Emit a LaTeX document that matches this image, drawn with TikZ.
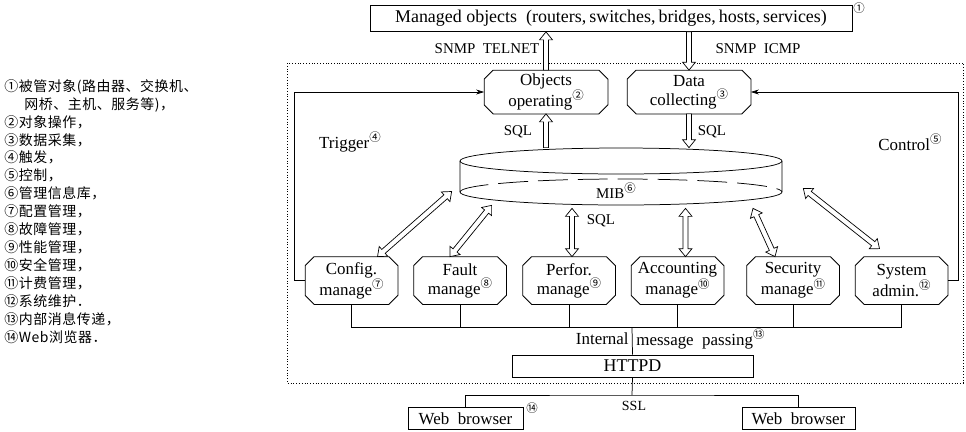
\documentclass[tikz,border=0pt]{standalone}
\usepackage{fontspec}
\setmainfont{Liberation Serif}
\newfontfamily\cjkf{Noto Sans CJK SC}
\newfontfamily\cjkleg[LetterSpace=4]{Noto Sans CJK SC}
\usetikzlibrary{calc,arrows.meta}

\newcommand\cnum[1]{\raisebox{0.4em}{\cjkf\fontsize{11.5}{11.5}\selectfont #1}}
\newcommand\hAw{2.6pt}
\newcommand\hAh{6.5pt}
\newcommand\hAl{8pt}
% single hollow arrow, head at #2
\newcommand\harr[2]{\draw[hollowline] ($(#1)!\hAw!90:(#2)$) -- ($($(#2)!\hAl!(#1)$)!\hAw!-90:(#1)$) -- ($($(#2)!\hAl!(#1)$)!\hAh!-90:(#1)$) -- (#2) -- ($($(#2)!\hAl!(#1)$)!\hAh!90:(#1)$) -- ($($(#2)!\hAl!(#1)$)!\hAw!90:(#1)$) -- ($(#1)!\hAw!-90:(#2)$) -- cycle;}
% double hollow arrow
\newcommand\dharr[2]{\draw[hollowline] (#1) -- ($($(#1)!\hAl!(#2)$)!\hAh!90:(#2)$) -- ($($(#1)!\hAl!(#2)$)!\hAw!90:(#2)$) -- ($($(#2)!\hAl!(#1)$)!\hAw!-90:(#1)$) -- ($($(#2)!\hAl!(#1)$)!\hAh!-90:(#1)$) -- (#2) -- ($($(#2)!\hAl!(#1)$)!\hAh!90:(#1)$) -- ($($(#2)!\hAl!(#1)$)!\hAw!90:(#1)$) -- ($($(#1)!\hAl!(#2)$)!\hAw!-90:(#2)$) -- ($($(#1)!\hAl!(#2)$)!\hAh!-90:(#2)$) -- cycle;}
% chamfered outline round a node
\newcommand\drawocto[1]{\draw ($(#1.north west)+(9,0)$) -- ($(#1.north east)+(-9,0)$) -- ($(#1.north east)+(0,9)$) -- ($(#1.south east)+(0,-9)$) -- ($(#1.south east)+(-9,0)$) -- ($(#1.south west)+(9,0)$) -- ($(#1.south west)+(0,-9)$) -- ($(#1.north west)+(0,9)$) -- cycle;}

\begin{document}
\begin{tikzpicture}[x=1bp,y=-1bp,line width=0.75pt,
  every node/.style={font=\fontsize{17}{19}\selectfont,inner sep=0pt},
  modbox/.style={minimum width=92bp,minimum height=47bp,align=center},
  topbox/.style={minimum width=123bp,minimum height=43bp,align=center},
  plainbox/.style={draw,inner sep=0pt},
  hollowline/.style={draw,fill=white,line width=0.7pt,line join=miter},
  lab/.style={font=\fontsize{15}{17}\selectfont},
  arr/.style={-{Stealth[length=8pt,width=5pt]}},
  frame/.style={dotted,line width=0.8pt}
]
\useasboundingbox (0,0) rectangle (966,431);

% legend
\node[anchor=north west,align=left,font=\cjkleg\fontsize{14}{18}\selectfont] (legend) at (4,79)
 {①被管对象(路由器、交换机、\\\hspace*{20bp}网桥、主机、服务等)，\\②对象操作，\\③数据采集，\\④触发，\\⑤控制，\\⑥管理信息库，\\⑦配置管理，\\⑧故障管理，\\⑨性能管理，\\⑩安全管理，\\⑪计费管理，\\⑫系统维护．\\⑬内部消息传递，\\⑭Web浏览器．};

% frame
\draw[frame] (287,63) rectangle (963,383);

% top box
\node[plainbox,minimum width=482bp,minimum height=26bp,font=\fontsize{18}{20}\selectfont] (managed) at (611,18.5)
 {Managed\ objects\ \ (routers,\,switches,\,bridges,\,hosts,\,services)};
\node (n1) at (859,11) {\cnum{①}};

% collecting / operating
\node[topbox] (objop) at (546,92) {Objects\\operating\cnum{②}};
\node[topbox] (data) at (689,92) {Data\\collecting\cnum{③}};
\drawocto{objop}
\drawocto{data}
\node[lab] (l1) at (487,49) {SNMP\ \ TELNET};
\node[lab] (l2) at (758,49) {SNMP\ \ ICMP};

% MIB cylinder
\node[minimum width=322bp,minimum height=57bp] (mib) at (621,176.5) {};
\coordinate (mibT) at ($(mib.center)+(0,-15.5)$);
\coordinate (mibB) at ($(mib.center)+(0,15.5)$);
\draw (mibT) ellipse [x radius=161,y radius=13];
\draw ($(mibT)+(-161,0)$) -- ($(mibB)+(-161,0)$) arc[start angle=180,end angle=0,x radius=161,y radius=13] -- ($(mibT)+(161,0)$);
\draw[dash pattern=on 30pt off 10pt] ($(mibB)+(-161,0)$) arc[start angle=180,end angle=360,x radius=161,y radius=13];
\node (mibtxt) at (616,191) {\fontsize{15}{17}\selectfont MIB\cnum{⑥}};

\node[lab] (sql1) at (518,132) {SQL};
\node[lab] (sql2) at (712,132) {SQL};
\node[lab] (sql3) at (601,221) {SQL};
\node (trig) at (350,142) {Trigger\cnum{④}};
\node (ctrl) at (910,142) {Control\cnum{⑤}};

% modules
\node[modbox] (cfg) at (351.5,280.5) {Config.\\manage\cnum{⑦}};
\node[modbox] (flt) at (460,280.5) {Fault\\manage\cnum{⑧}};
\node[modbox] (prf) at (569,280.5) {Perfor.\\manage\cnum{⑨}};
\node[modbox] (acc) at (677.5,280.5) {Accounting\\manage\cnum{⑩}};
\node[modbox] (sec) at (793,280.5) {Security\\manage\cnum{⑪}};
\node[modbox] (sys) at (901.5,280.5) {System\\admin.\cnum{⑫}};
\foreach \m in {cfg,flt,prf,acc,sec,sys}{\drawocto{\m}}

% trigger and control
\coordinate (tx) at (294,0);
\coordinate (cx) at (958,0);
\draw[arr] (cfg.west) -- (cfg.west -| tx) |- (objop.west);
\draw[arr] (sys.east) -- (sys.east -| cx) |- (data.east);

% bus
\coordinate (bus) at (632,327);
\draw (cfg.south) |- (sys.south |- bus) -- (sys.south);
\foreach \m in {flt,prf,acc,sec}{\draw (\m.south) -- (\m.south |- bus);}
\node[plainbox,minimum width=241bp,minimum height=22bp] (httpd) at (632.5,366) {\fontsize{18}{20}\selectfont HTTPD};
\draw (bus) -- (httpd.north);
\node[anchor=east] (int1) at (629,339) {Internal};
\node[anchor=west] (int2) at (636,339) {message\ \ passing\cnum{⑬}};

% browsers
\node[plainbox,minimum width=115bp,minimum height=22bp] (web1) at (465.5,418.5) {Web\ \ browser};
\node[plainbox,minimum width=113bp,minimum height=22bp] (web2) at (798.5,418.5) {Web\ \ browser};
\node (n14) at (532,411) {\cnum{⑭}};
\coordinate (sslbar) at (632,395);
\draw (httpd.south) -- (sslbar);
\draw (web1.north) |- (sslbar) -| (web2.north);
\node[font=\fontsize{14}{16}\selectfont] (ssl) at (634,406) {SSL};

% hollow arrows
\coordinate (a1s) at (objop.north);
\coordinate (a1e) at (objop.north |- managed.south);
\harr{a1s}{a1e}
\coordinate (a2s) at (data.north |- managed.south);
\harr{a2s}{data.north}
\coordinate (s1s) at (objop.south |- mib.north);
\harr{s1s}{objop.south}
\coordinate (s2s) at (data.south);
\coordinate (s2e) at (data.south |- mib.north);
\harr{s2s}{s2e}
\coordinate (d1s) at ($(mib.west)+(-8,15)$);
\coordinate (d1e) at ($(cfg.north)+(26,0)$);
\dharr{d1s}{d1e}
\coordinate (d2s) at ($(mib.south west)+(32,0)$);
\coordinate (d2e) at ($(flt.north)+(-10,0)$);
\dharr{d2s}{d2e}
\coordinate (d3s) at ($(prf.north |- mib.south)+(3,3)$);
\coordinate (d3e) at ($(prf.north)+(3,0)$);
\dharr{d3s}{d3e}
\coordinate (d4s) at ($(acc.north |- mib.south)+(8,3)$);
\coordinate (d4e) at ($(acc.north)+(8,0)$);
\dharr{d4s}{d4e}
\coordinate (d5s) at ($(sec.north |- mib.south)+(-40,3)$);
\coordinate (d5e) at ($(sec.north)+(-18,0)$);
\dharr{d5s}{d5e}
\coordinate (d6s) at ($(mib.east)+(21,12)$);
\coordinate (d6e) at ($(sys.north)+(-22,-8)$);
\dharr{d6s}{d6e}
\end{tikzpicture}
\end{document}
